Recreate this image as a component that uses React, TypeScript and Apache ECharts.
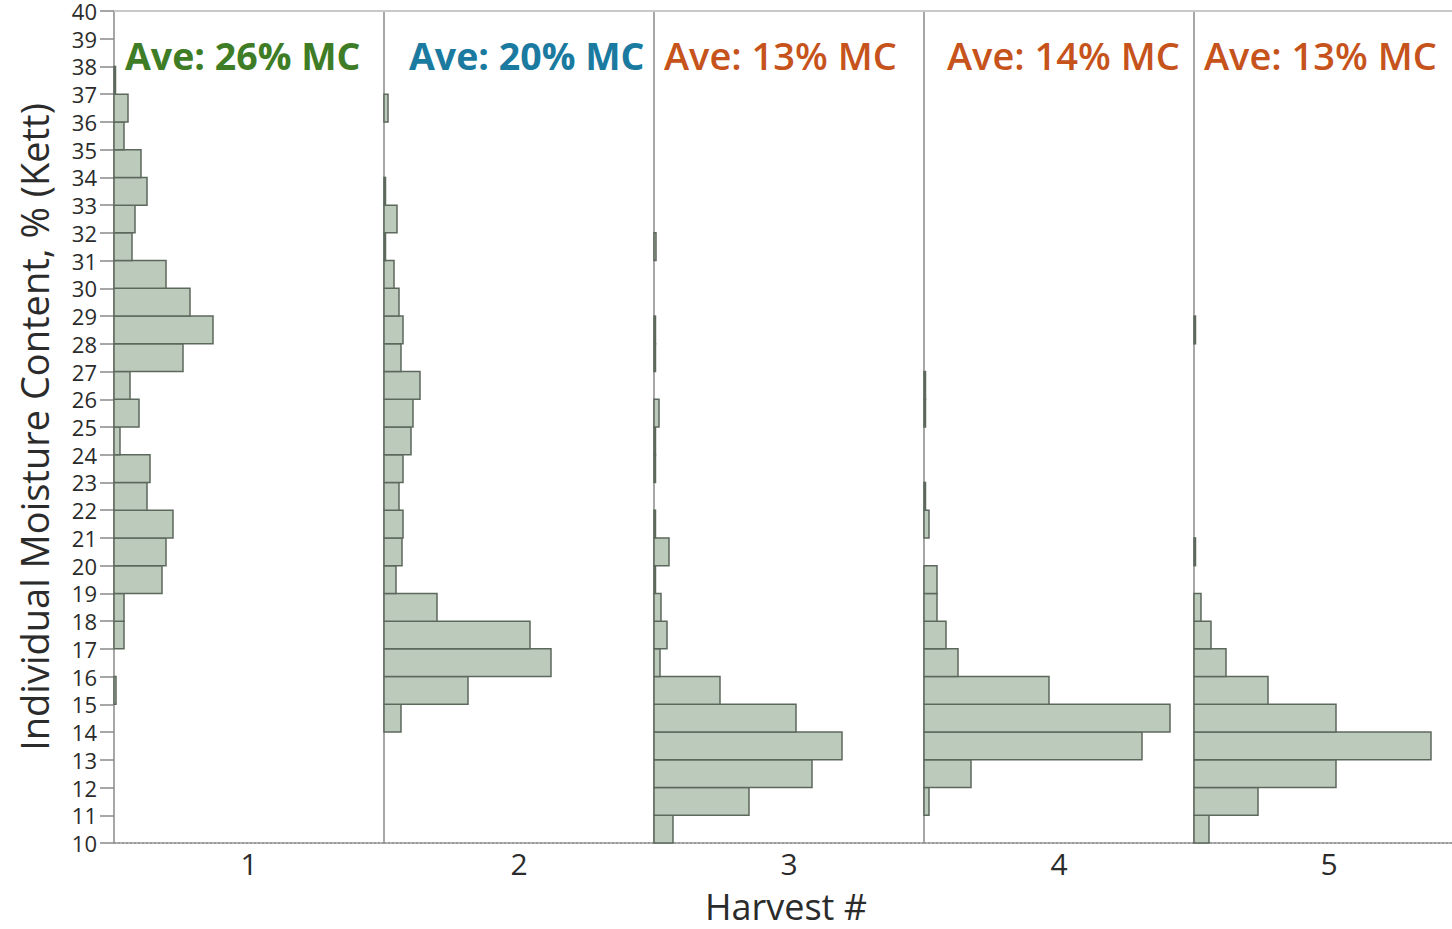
import React, { useEffect, useRef } from "react";
import * as echarts from "echarts";

// Bin lower edges (% MC); each bar spans [bin, bin + 1)
const binStarts = [10, 11, 12, 13, 14, 15, 16, 17, 18, 19, 20, 21, 22, 23, 24, 25, 26, 27, 28, 29, 30, 31, 32, 33, 34, 35, 36, 37, 38, 39];

// Relative frequency per bin, one array per harvest
const harvest1 = [0, 0, 0, 0, 0, 0.2, 0, 1.0, 1.0, 4.8, 5.2, 5.9, 3.3, 3.6, 0.6, 2.5, 1.6, 6.9, 9.9, 7.6, 5.2, 1.8, 2.1, 3.3, 2.7, 1.0, 1.4, 0.15, 0, 0];
const harvest2 = [0, 0, 0, 0, 1.7, 8.4, 16.7, 14.6, 5.3, 1.2, 1.8, 1.9, 1.5, 1.9, 2.7, 2.9, 3.6, 1.7, 1.9, 1.5, 1.0, 0.15, 1.3, 0.15, 0, 0, 0.4, 0, 0, 0];
const harvest3 = [1.9, 9.5, 15.8, 18.8, 14.2, 6.6, 0.6, 1.3, 0.7, 0.15, 1.5, 0.15, 0, 0.15, 0.15, 0.5, 0, 0.15, 0.15, 0, 0, 0.2, 0, 0, 0, 0, 0, 0, 0, 0];
const harvest4 = [0, 0.5, 4.7, 21.8, 24.6, 12.5, 3.4, 2.2, 1.3, 1.3, 0, 0.5, 0.15, 0, 0, 0.15, 0.15, 0, 0, 0, 0, 0, 0, 0, 0, 0, 0, 0, 0, 0];
const harvest5 = [1.5, 6.4, 14.2, 23.7, 14.2, 7.4, 3.2, 1.7, 0.7, 0, 0.15, 0, 0, 0, 0, 0, 0, 0, 0.15, 0, 0, 0, 0, 0, 0, 0, 0, 0, 0, 0];

const harvestLabels = ["1", "2", "3", "4", "5"];
const aveLabels = ["Ave: 26% MC", "Ave: 20% MC", "Ave: 13% MC", "Ave: 14% MC", "Ave: 13% MC"];
const aveColors = ["#3e7d26", "#1a7aa0", "#c6531b", "#c6531b", "#c6531b"];

const yTitle = "Individual Moisture Content, % (Kett)";
const xTitle = "Harvest #";

const panels = [harvest1, harvest2, harvest3, harvest4, harvest5];

// layout
const PLOT_LEFT = 114;
const PLOT_TOP = 11;
const PLOT_H = 832;
const PANEL_W = 270;
const CHART_W = PLOT_LEFT + PANEL_W * 5; // last panel runs past the page's right edge
const XMAX = 27;
const aveX = [125, 409, 664, 947, 1204];

const FONT = "'Open Sans', 'Noto Sans', sans-serif";

export default function App() {
  const ref = useRef<HTMLDivElement>(null);

  useEffect(() => {
    if (!ref.current) return;
    const chart = echarts.init(ref.current, null, { renderer: "svg" });

    const renderItem = (params: any, api: any) => {
      const v = api.value(0);
      const b = api.value(1);
      if (!(v > 0)) return null;
      const p0 = api.coord([0, b + 1]);
      const p1 = api.coord([v, b]);
      return {
        type: "rect",
        shape: { x: p0[0], y: p0[1], width: p1[0] - p0[0], height: p1[1] - p0[1] },
        style: { fill: "#bccabc", stroke: "#5d685d", lineWidth: 1.5 },
      };
    };

    const option: any = {
      animation: false,
      grid: panels.map((_, i) => ({
        left: PLOT_LEFT + PANEL_W * i,
        top: PLOT_TOP,
        width: PANEL_W,
        height: PLOT_H,
      })),
      xAxis: [
        ...panels.map((_, i) => ({
          gridIndex: i,
          type: "category",
          position: "bottom",
          data: [harvestLabels[i]],
          axisLine: { show: true, onZero: false, lineStyle: { color: "#9a9a9a", width: 2, type: "dotted" } },
          axisTick: { show: false },
          axisLabel: { show: true, fontSize: 30, color: "#2b2b2b", fontFamily: FONT, margin: 5 },
          splitLine: { show: false },
        })),
        ...panels.map((_, i) => ({
          gridIndex: i,
          type: "value",
          position: "top",
          min: 0,
          max: XMAX,
          axisLine: { show: true, onZero: false, lineStyle: { color: "#c9c9c9", width: 2 } },
          axisTick: { show: false },
          axisLabel: { show: false },
          splitLine: { show: false },
        })),
      ],
      yAxis: panels.map((_, i) => ({
        gridIndex: i,
        type: "value",
        min: 10,
        max: 40,
        interval: 1,
        axisLine: { show: true, onZero: false, lineStyle: { color: "#8a8a8a", width: 1.5 } },
        axisTick: { show: i === 0, length: 14, lineStyle: { color: "#8a8a8a", width: 1.5 } },
        axisLabel: { show: i === 0, fontSize: 22, lineHeight: 22, color: "#2b2b2b", fontFamily: FONT, margin: 17 },
        splitLine: { show: false },
      })),
      series: panels.map((vals, i) => ({
        type: "custom",
        xAxisIndex: panels.length + i,
        yAxisIndex: i,
        renderItem,
        encode: { x: 0, y: 1 },
        data: binStarts.map((b, k) => [vals[k], b]),
      })),
      graphic: [
        ...aveLabels.map((t, i) => ({
          type: "text",
          left: aveX[i],
          top: 36,
          style: {
            text: t,
            fill: aveColors[i],
            fontSize: i < 2 ? 37.5 : 38,
            fontWeight: i < 2 ? "bold" : 600,
            fontFamily: FONT,
          },
        })),
        {
          type: "text",
          x: 34,
          y: PLOT_TOP + PLOT_H / 2,
          rotation: Math.PI / 2,
          style: {
            text: yTitle,
            fill: "#2b2b2b",
            fontSize: 38,
            fontFamily: FONT,
            align: "center",
            verticalAlign: "middle",
          },
        },
        {
          type: "text",
          x: 786,
          y: 906,
          style: {
            text: xTitle,
            fill: "#2b2b2b",
            fontSize: 36,
            fontFamily: FONT,
            align: "center",
            verticalAlign: "middle",
          },
        },
      ],
    };

    chart.setOption(option);
    return () => chart.dispose();
  }, []);

  return (
    <div style={{ position: "fixed", left: 0, top: 0, width: 1452, height: 929, overflow: "hidden", background: "#fff" }}>
      <div ref={ref} style={{ position: "absolute", left: 0, top: 0, width: CHART_W, height: 929 }} />
    </div>
  );
}
